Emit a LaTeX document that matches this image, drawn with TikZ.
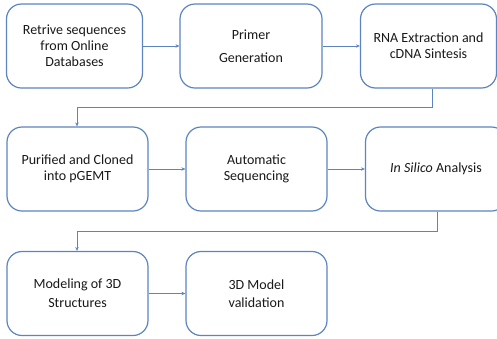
\documentclass[tikz,border=0pt]{standalone}
\usepackage{fontspec}
\setmainfont{Carlito}
\usetikzlibrary{arrows.meta}
\definecolor{flowblue}{HTML}{5B84C0}
\tikzset{
  stepbox/.style={draw=flowblue, line width=1.2pt, rounded corners=15pt, fill=white,
    minimum width=136pt, minimum height=84pt, align=center, inner sep=0pt,
    font=\fontsize{14}{16}\selectfont, text=black!90},
  flow/.style={draw=flowblue, line width=0.9pt, -{Stealth[length=4pt,width=3.5pt]}},
}
\begin{document}
\begin{tikzpicture}[x=1pt, y=-1pt]
\useasboundingbox (0,0) rectangle (497,338);
\clip (0,0) rectangle (497,338);
% first row
\node[stepbox] (retrieve) at (74.5,46) {Retrive sequences\\from Online\\Databases};
\node[stepbox, minimum width=142pt, font=\fontsize{14}{23}\selectfont] (primer) at (251,46) {Primer\\Generation};
\node[stepbox] (rna) at (428.5,46) {RNA Extraction and\\cDNA Sintesis};
% second row
\node[stepbox, minimum width=141pt] (clone) at (77.5,169) {Purified and Cloned\\into pGEMT};
\node[stepbox, minimum width=141pt] (seq) at (256.5,169) {Automatic\\Sequencing};
\node[stepbox, minimum width=141pt] (silico) at (436,169) {\textit{In Silico} Analysis};
% third row
\node[stepbox, minimum width=141pt, font=\fontsize{14}{19}\selectfont] (model) at (77.5,293.5) {Modeling of 3D\\Structures};
\node[stepbox, minimum width=141pt, font=\fontsize{14}{18}\selectfont] (valid) at (256.5,293.5) {3D Model\\validation};
% connectors
\draw[flow] (rna.south -| 432,0) |- (77,107) -- (clone.north -| 77,0);
\draw[flow] (retrieve.east) -- (primer.west);
\draw[flow] (primer.east) -- (rna.west);
\draw[flow] (clone.east) -- (seq.west);
\draw[flow] (seq.east) -- (silico.west);
\draw[flow] (silico.south -| 437,0) |- (77,231) -- (model.north -| 77,0);
\draw[flow] (model.east) -- (valid.west);
\end{tikzpicture}
\end{document}
